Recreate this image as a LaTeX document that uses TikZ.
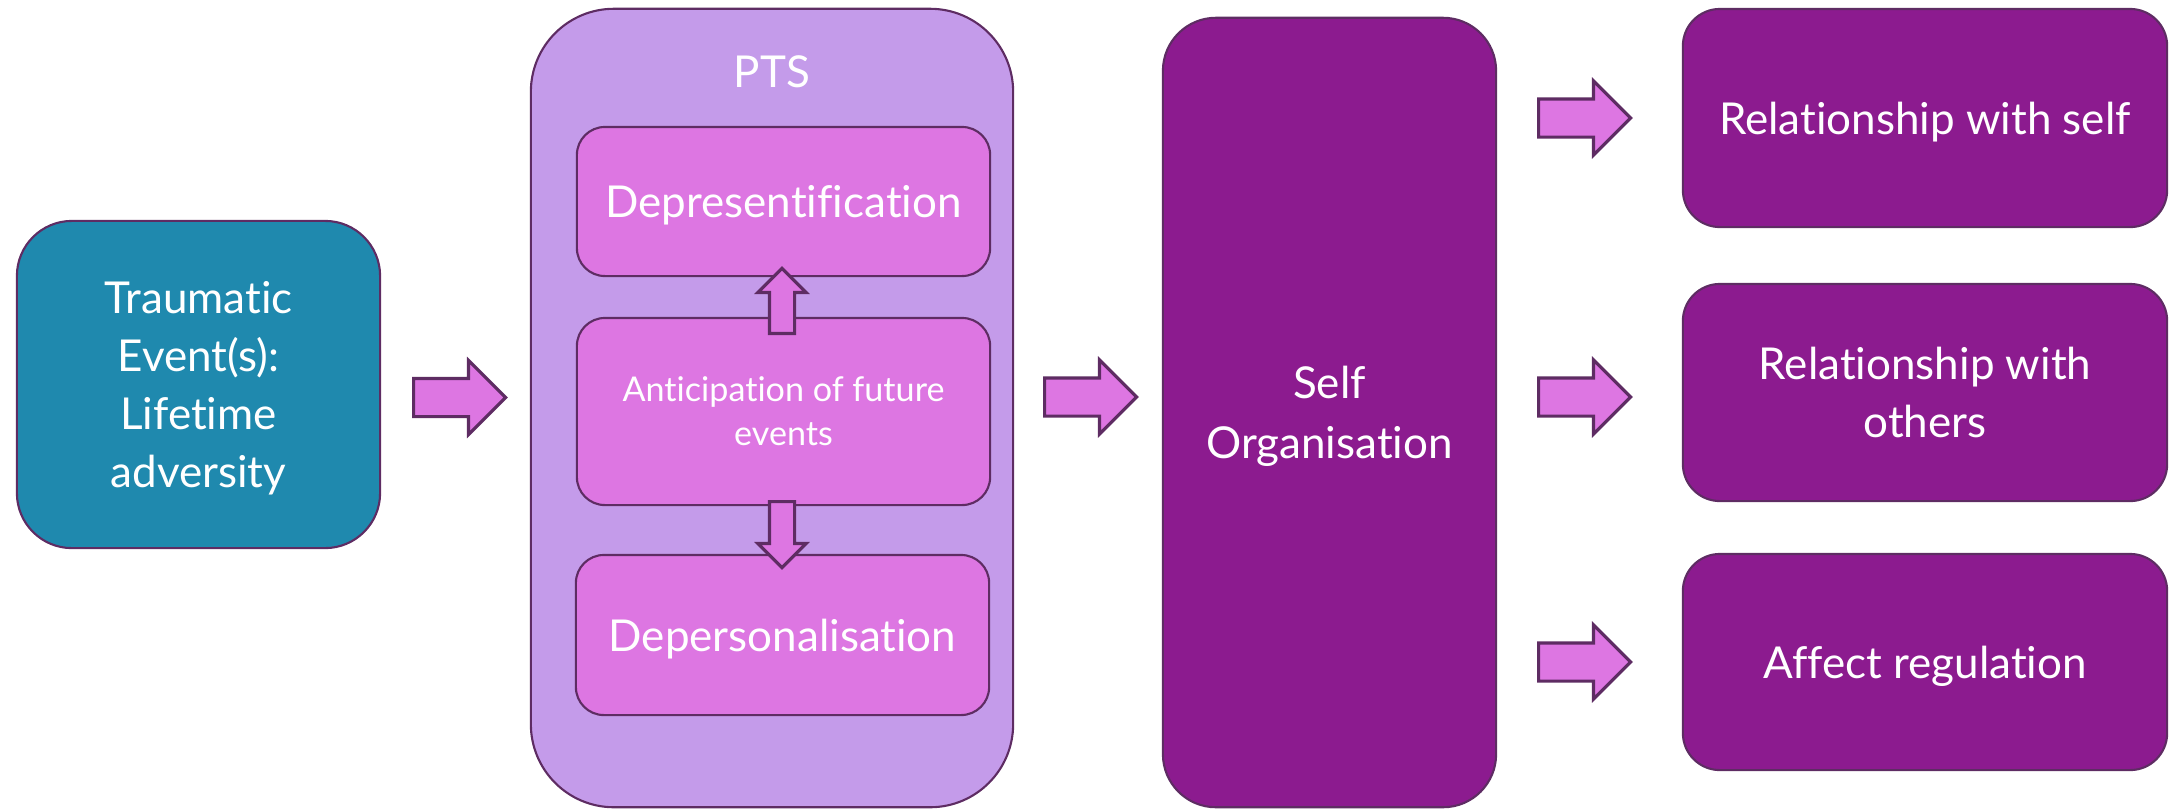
\documentclass[tikz,border=0pt]{standalone}
\usepackage{fontspec}
\setmainfont{Lato}[Ligatures=NoCommon]
\usepackage{xcolor}
\definecolor{ColTeal}{RGB}{31,137,174}
\definecolor{ColLav}{RGB}{196,155,234}
\definecolor{ColOrch}{RGB}{221,118,226}
\definecolor{ColPurp}{RGB}{140,27,143}
\definecolor{ColEdge}{RGB}{94,44,99}
\usepackage{tikz}
\usetikzlibrary{shapes.arrows}
\tikzstyle{Box}=[draw=ColEdge,line width=.6pt,text=white,align=center,
inner sep=0pt,text depth=0pt,font=\fontsize{12.5}{16.5}\selectfont]
\tikzstyle{Inner}=[Box,fill=ColOrch,minimum width=4.13cm,rounded corners=.28cm]
\tikzstyle{Outcome}=[Box,fill=ColPurp,minimum width=4.84cm,rounded corners=.37cm]
\tikzstyle{Block}=[single arrow,draw=ColEdge,fill=ColOrch,line width=.9pt,
inner sep=0pt,inner ysep=.175cm,single arrow head extend=.18cm,
minimum height=.92cm,anchor=tail]

\begin{document}
\begin{tikzpicture}[x=.01cm,y=-.01cm]
            \useasboundingbox (0,0) rectangle (2170,808);
            \node[Box,fill=ColTeal,minimum width=3.63cm,minimum height=3.27cm,
                rounded corners=.55cm](trauma)at(198.5,384.5)
                {Traumatic\\Event(s):\\Lifetime\\adversity};
            \node[Box,fill=ColLav,minimum width=4.82cm,minimum height=7.98cm,
                rounded corners=.83cm](pts)at(772,408){};
            \node[Box,draw=none](ptslabel)at(772,72){PTS};
            \node[Inner,minimum height=1.49cm](depres)at(783.5,201.5)
                {Depresentification};
            \node[Inner,minimum height=1.87cm,
                font=\fontsize{9.7}{12.5}\selectfont](anticip)at(783.5,411.5)
                {Anticipation of future\\events};
            \node[Inner,minimum height=1.60cm](depers)at(782.5,635)
                {Depersonalisation};
            \node[Box,fill=ColPurp,minimum width=3.33cm,minimum height=7.89cm,
                rounded corners=.53cm,font=\fontsize{12.5}{17}\selectfont](self)
                at(1329.5,412.5){Self\\Organisation};
            \node[Outcome,minimum height=2.18cm](relself)at(1925,118)
                {Relationship with self};
            \node[Outcome,minimum height=2.17cm](relothers)at(1925,392.5)
                {Relationship with\\others};
            \node[Outcome,minimum height=2.16cm](affect)at(1925,662)
                {Affect regulation};
            \node[Block](a1)at(412,397.5){};
            \node[Block](a2)at(1043,397){};
            \node[Block](a3)at(1537,118){};
            \node[Block](a4)at(1537,397){};
            \node[Block](a5)at(1537,662){};
            \node[Block,rotate=90,minimum height=.65cm,inner ysep=.11cm,
                single arrow head extend=.115cm](up)at(782,335){};
            \node[Block,rotate=-90,minimum height=.66cm,inner ysep=.11cm,
                single arrow head extend=.115cm](down)at(782,500){};
        \end{tikzpicture}
\end{document}
